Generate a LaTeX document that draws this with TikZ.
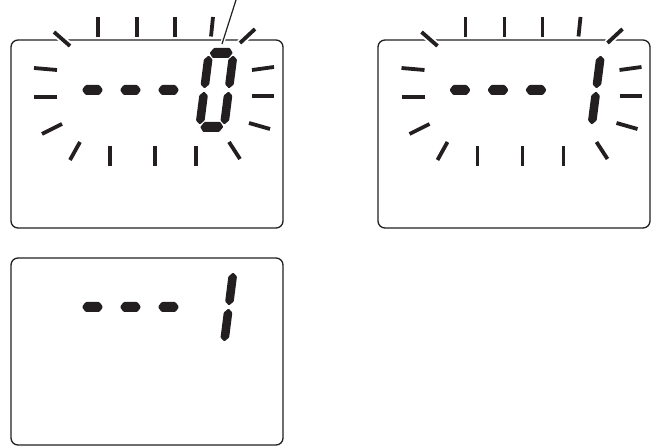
\documentclass[tikz,border=0pt]{standalone}
\definecolor{ink}{RGB}{35,31,32}
\newcommand\lcdhseg[2]{\fill[ink,rounded corners=0.8pt] (#1-11.5,#2) -- (#1-8,#2-5) -- (#1+8,#2-5) -- (#1+11.5,#2) -- (#1+8,#2+5) -- (#1-8,#2+5) -- cycle;}
\newcommand\lcdvseg[2]{\fill[ink,rounded corners=0.8pt] (#1,#2-16.5) -- (#1+4.3,#2-12.5) -- (#1+4.3,#2+12.5) -- (#1,#2+16.5) -- (#1-4.3,#2+12.5) -- (#1-4.3,#2-12.5) -- cycle;}
\newcommand\lcddash[2]{\fill[ink,rounded corners=1pt] (#1-10.5,#2) -- (#1-7,#2-5) -- (#1+7,#2-5) -- (#1+10.5,#2) -- (#1+7,#2+5) -- (#1-7,#2+5) -- cycle;}
\begin{document}
\begin{tikzpicture}[x=1pt,y=-1pt,
  panel/.style={draw=ink,line width=1.3pt,rounded corners=7pt},
  ray/.style={draw=ink,line width=3.8pt},
  xray/.style={ray,preaction={draw=white,line width=7.5pt}},
  pointer/.style={draw=ink,line width=1.2pt,preaction={draw=white,line width=4pt}}]
\useasboundingbox (0,0) rectangle (656,446);

% panels
\draw[panel] (11,40) rectangle (283,228);
\draw[panel] (378,40) rectangle (650,228);
\draw[panel] (11,258) rectangle (283,445);

% rays
\foreach \dx in {0,367.5}{
  \begin{scope}[xshift=\dx pt]
    \draw[xray] (54,32) -- (70,46);
    \draw[ray] (98,17) -- (98,37.5);
    \draw[ray] (137,17) -- (137,37.5);
    \draw[ray] (175,17) -- (175,37.5);
    \draw[ray] (213,17) -- (211,36.5);
    \draw[xray] (255,29) -- (240,43);
    \draw[ray] (34,68) -- (57,70);
    \draw[ray] (34,97) -- (57,97);
    \draw[ray] (42,134) -- (62,124);
    \draw[ray] (80,142) -- (70,160);
    \draw[ray] (110,146) -- (110,166);
    \draw[ray] (155,146) -- (155,166);
    \draw[ray] (196,146) -- (196,166);
    \draw[ray] (229,142) -- (240,159);
    \draw[ray] (252,70) -- (274,67);
    \draw[ray] (252,96) -- (274,96);
    \draw[ray] (249,123) -- (270,129);
  \end{scope}
}

% pointer line
\coordinate (ptop) at (236,0);
\coordinate (pbot) at (222,44);
\draw[pointer] (ptop) -- (pbot);

% dashes
\foreach \px/\py in {0/90, 367.5/90, 0/307}{
  \lcddash{\px+92.5}{\py}
  \lcddash{\px+130.5}{\py}
  \lcddash{\px+168.5}{\py}
}

% digit 0 (panel 1)
\begin{scope}[cm={1,0,0.128,1,(216.5,90)}]
  \lcdhseg{0}{-37}
  \lcdhseg{0}{37}
  \lcdvseg{-12.25}{-18}
  \lcdvseg{12.25}{-18}
  \lcdvseg{-12.25}{18}
  \lcdvseg{12.25}{18}
\end{scope}

% digit 1 (panel 2)
\begin{scope}[cm={1,0,0.128,1,(584,90)}]
  \lcdvseg{12.25}{-18}
  \lcdvseg{12.25}{18}
\end{scope}

% digit 1 (panel 3)
\begin{scope}[cm={1,0,0.128,1,(216.5,307)}]
  \lcdvseg{12.25}{-18}
  \lcdvseg{12.25}{18}
\end{scope}
\end{tikzpicture}
\end{document}
